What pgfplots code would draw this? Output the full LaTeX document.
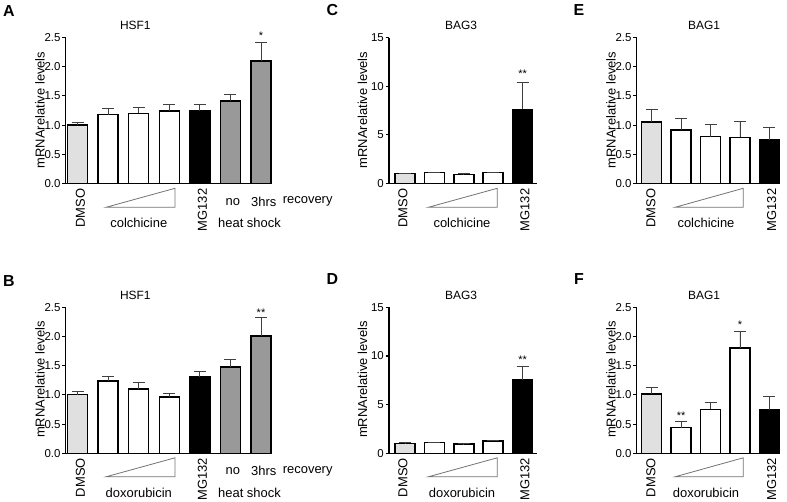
\documentclass[border=0pt]{standalone}
\usepackage{pgfplots}
\pgfplotsset{compat=1.18}
\usepackage{fontspec}
\setmainfont{Liberation Sans}
\definecolor{lg}{HTML}{E0E0E0}
\definecolor{mg}{HTML}{999999}
\newcommand{\tf}{\fontsize{13}{13}\selectfont}
\newcommand{\tfs}{\fontsize{12}{12}\selectfont}
\pgfplotsset{
 panel/.style={scale only axis, axis lines*=left, axis line style={line width=1.4bp, black},
   ymin=0, xtick=\empty, tick align=outside, major tick length=3.5bp,
   ytick style={line width=1.1bp, black}, clip=false, anchor=south west,
   y tick label style={font=\fontsize{11.5}{12}\selectfont, inner sep=1.5bp},
   /pgf/number format/assume math mode=true},
 dec/.style={/pgf/number format/fixed, /pgf/number format/fixed zerofill, /pgf/number format/precision=1},
 br/.style={ybar, bar width=20bp, bar shift=0pt, draw=black, line width=1.5bp, fill=#1,
   error bars/.cd, y dir=plus, y explicit,
   error bar style={line width=0.9bp, color=black!75},
   error mark options={rotate=90, mark size=6bp, line width=0.9bp, color=black!75}},
}
\tikzset{st/.style={font=\fontsize{11}{11}\selectfont, inner sep=0pt, yshift=-2bp}}
\begin{document}
\begin{tikzpicture}
\useasboundingbox (0,0) rectangle (787bp,-502bp);
% ---------------- A ----------------
\begin{axis}[panel, dec, at={(65.7bp,-183.3bp)}, width=206.3bp, height=145.6bp,
  xmin=-0.39, xmax=6.36, ymax=2.5, ytick={0,0.5,1,1.5,2,2.5}]
\addplot[br=lg] coordinates {(0,1.00) +- (0,0.04)};
\addplot[br=white] coordinates {(1,1.18) +- (0,0.11) (2,1.20) +- (0,0.10) (3,1.24) +- (0,0.11)};
\addplot[br=black] coordinates {(4,1.25) +- (0,0.10)};
\addplot[br=mg] coordinates {(5,1.41) +- (0,0.11) (6,2.10) +- (0,0.32)};
\node[st] at (axis cs:6,2.56) {*};
\end{axis}
% ---------------- B ----------------
\begin{axis}[panel, dec, at={(65.7bp,-453.3bp)}, width=206.3bp, height=146bp,
  xmin=-0.39, xmax=6.36, ymax=2.5, ytick={0,0.5,1,1.5,2,2.5}]
\addplot[br=lg] coordinates {(0,1.005) +- (0,0.05)};
\addplot[br=white] coordinates {(1,1.24) +- (0,0.07) (2,1.10) +- (0,0.11) (3,0.96) +- (0,0.07)};
\addplot[br=black] coordinates {(4,1.31) +- (0,0.10)};
\addplot[br=mg] coordinates {(5,1.48) +- (0,0.12) (6,2.01) +- (0,0.31)};
\node[st] at (axis cs:6,2.44) {**};
\end{axis}
% ---------------- C ----------------
\begin{axis}[panel, at={(389bp,-183.3bp)}, width=148bp, height=145.6bp,
  xmin=-0.544, xmax=4.49, ymax=15, ytick={0,5,10,15}]
\addplot[br=lg] coordinates {(0,1.0) +- (0,0.05)};
\addplot[br=white] coordinates {(1,1.1) +- (0,0.05) (2,0.93) +- (0,0.04) (3,1.1) +- (0,0.05)};
\addplot[br=black] coordinates {(4,7.62) +- (0,2.78)};
\node[st] at (axis cs:4,11.5) {**};
\end{axis}
% ---------------- D ----------------
\begin{axis}[panel, at={(389bp,-453.3bp)}, width=148bp, height=146bp,
  xmin=-0.544, xmax=4.49, ymax=15, ytick={0,5,10,15}]
\addplot[br=lg] coordinates {(0,1.03) +- (0,0.04)};
\addplot[br=white] coordinates {(1,1.1) +- (0,0.05) (2,0.96) +- (0,0.04) (3,1.27) +- (0,0.1)};
\addplot[br=black] coordinates {(4,7.57) +- (0,1.33)};
\node[st] at (axis cs:4,9.86) {**};
\end{axis}
% ---------------- E ----------------
\begin{axis}[panel, dec, at={(636.7bp,-183.3bp)}, width=143.3bp, height=145.6bp,
  xmin=-0.51, xmax=4.36, ymax=2.5, ytick={0,0.5,1,1.5,2,2.5}]
\addplot[br=lg] coordinates {(0,1.05) +- (0,0.21)};
\addplot[br=white] coordinates {(1,0.915) +- (0,0.195) (2,0.80) +- (0,0.21) (3,0.79) +- (0,0.27)};
\addplot[br=black] coordinates {(4,0.744) +- (0,0.223)};
\end{axis}
% ---------------- F ----------------
\begin{axis}[panel, dec, at={(636.7bp,-453.3bp)}, width=143.3bp, height=146bp,
  xmin=-0.51, xmax=4.36, ymax=2.5, ytick={0,0.5,1,1.5,2,2.5}]
\addplot[br=lg] coordinates {(0,1.016) +- (0,0.114)};
\addplot[br=white] coordinates {(1,0.44) +- (0,0.10) (2,0.753) +- (0,0.117) (3,1.80) +- (0,0.28)};
\addplot[br=black] coordinates {(4,0.748) +- (0,0.222)};
\node[st] at (axis cs:1,0.685) {**};
\node[st] at (axis cs:3,2.24) {*};
\end{axis}
% ---------------- annotations ----------------
\foreach \dy/\la/\lb/\lc/\drug in {0/A/C/E/colchicine, 269.5/B/D/F/doxorubicin}{
  \node[font=\bfseries\fontsize{16}{16}\selectfont] at (9bp,{-(11.5+\dy)*1bp}) {\la};
  \node[font=\bfseries\fontsize{16}{16}\selectfont] at (332.5bp,{-(10+\dy)*1bp}) {\lb};
  \node[font=\bfseries\fontsize{16}{16}\selectfont] at (579bp,{-(10+\dy)*1bp}) {\lc};
  \node[font=\tfs] at (135.3bp,{-(25.5+\dy)*1bp}) {HSF1};
  \node[font=\tfs] at (461bp,{-(25.5+\dy)*1bp}) {BAG3};
  \node[font=\tfs] at (704bp,{-(25.5+\dy)*1bp}) {BAG1};
  \node[font=\tf, rotate=90] at (40bp,{-(110+\dy)*1bp}) {mRNArelative levels};
  \node[font=\tf, rotate=90] at (362.5bp,{-(110+\dy)*1bp}) {mRNArelative levels};
  \node[font=\tf, rotate=90] at (611bp,{-(110+\dy)*1bp}) {mRNArelative levels};
  % x labels
  \node[font=\tf, rotate=90, anchor=east, inner sep=0pt] at (80.5bp,{-(188.5+\dy)*1bp}) {DMSO};
  \node[font=\tf, rotate=90, anchor=east, inner sep=0pt] at (202.5bp,{-(188.5+\dy)*1bp}) {MG132};
  \node[font=\tf, rotate=90, anchor=east, inner sep=0pt] at (403bp,{-(188.5+\dy)*1bp}) {DMSO};
  \node[font=\tf, rotate=90, anchor=east, inner sep=0pt] at (525bp,{-(188.5+\dy)*1bp}) {MG132};
  \node[font=\tf, rotate=90, anchor=east, inner sep=0pt] at (651bp,{-(188.5+\dy)*1bp}) {DMSO};
  \node[font=\tf, rotate=90, anchor=east, inner sep=0pt] at (771.7bp,{-(188.5+\dy)*1bp}) {MG132};
  \node[font=\tf] at (138.8bp,{-(223.3+\dy)*1bp}) {\drug};
  \node[font=\tf] at (462bp,{-(223.3+\dy)*1bp}) {\drug};
  \node[font=\tf] at (706bp,{-(223.3+\dy)*1bp}) {\drug};
  \node[font=\tf] at (249.5bp,{-(223.3+\dy)*1bp}) {heat shock};
  \node[font=\tf] at (232.8bp,{-(201.7+\dy)*1bp}) {no};
  \node[font=\tf] at (263.8bp,{-(201.7+\dy)*1bp}) {3hrs};
  \node[font=\tf] at (307.7bp,{-(201.7+\dy)*1bp}) {recovery};
  % triangles
  \draw[black!55, line width=0.8bp] (106bp,{-(207.3+\dy)*1bp}) -- (175bp,{-(207.3+\dy)*1bp}) -- (175bp,{-(188.3+\dy)*1bp}) -- cycle;
  \draw[black!55, line width=0.8bp] (428.3bp,{-(207.3+\dy)*1bp}) -- (497.3bp,{-(207.3+\dy)*1bp}) -- (497.3bp,{-(188.3+\dy)*1bp}) -- cycle;
  \draw[black!55, line width=0.8bp] (675bp,{-(207.3+\dy)*1bp}) -- (743.3bp,{-(207.3+\dy)*1bp}) -- (743.3bp,{-(188.3+\dy)*1bp}) -- cycle;
}
\end{tikzpicture}
\end{document}
